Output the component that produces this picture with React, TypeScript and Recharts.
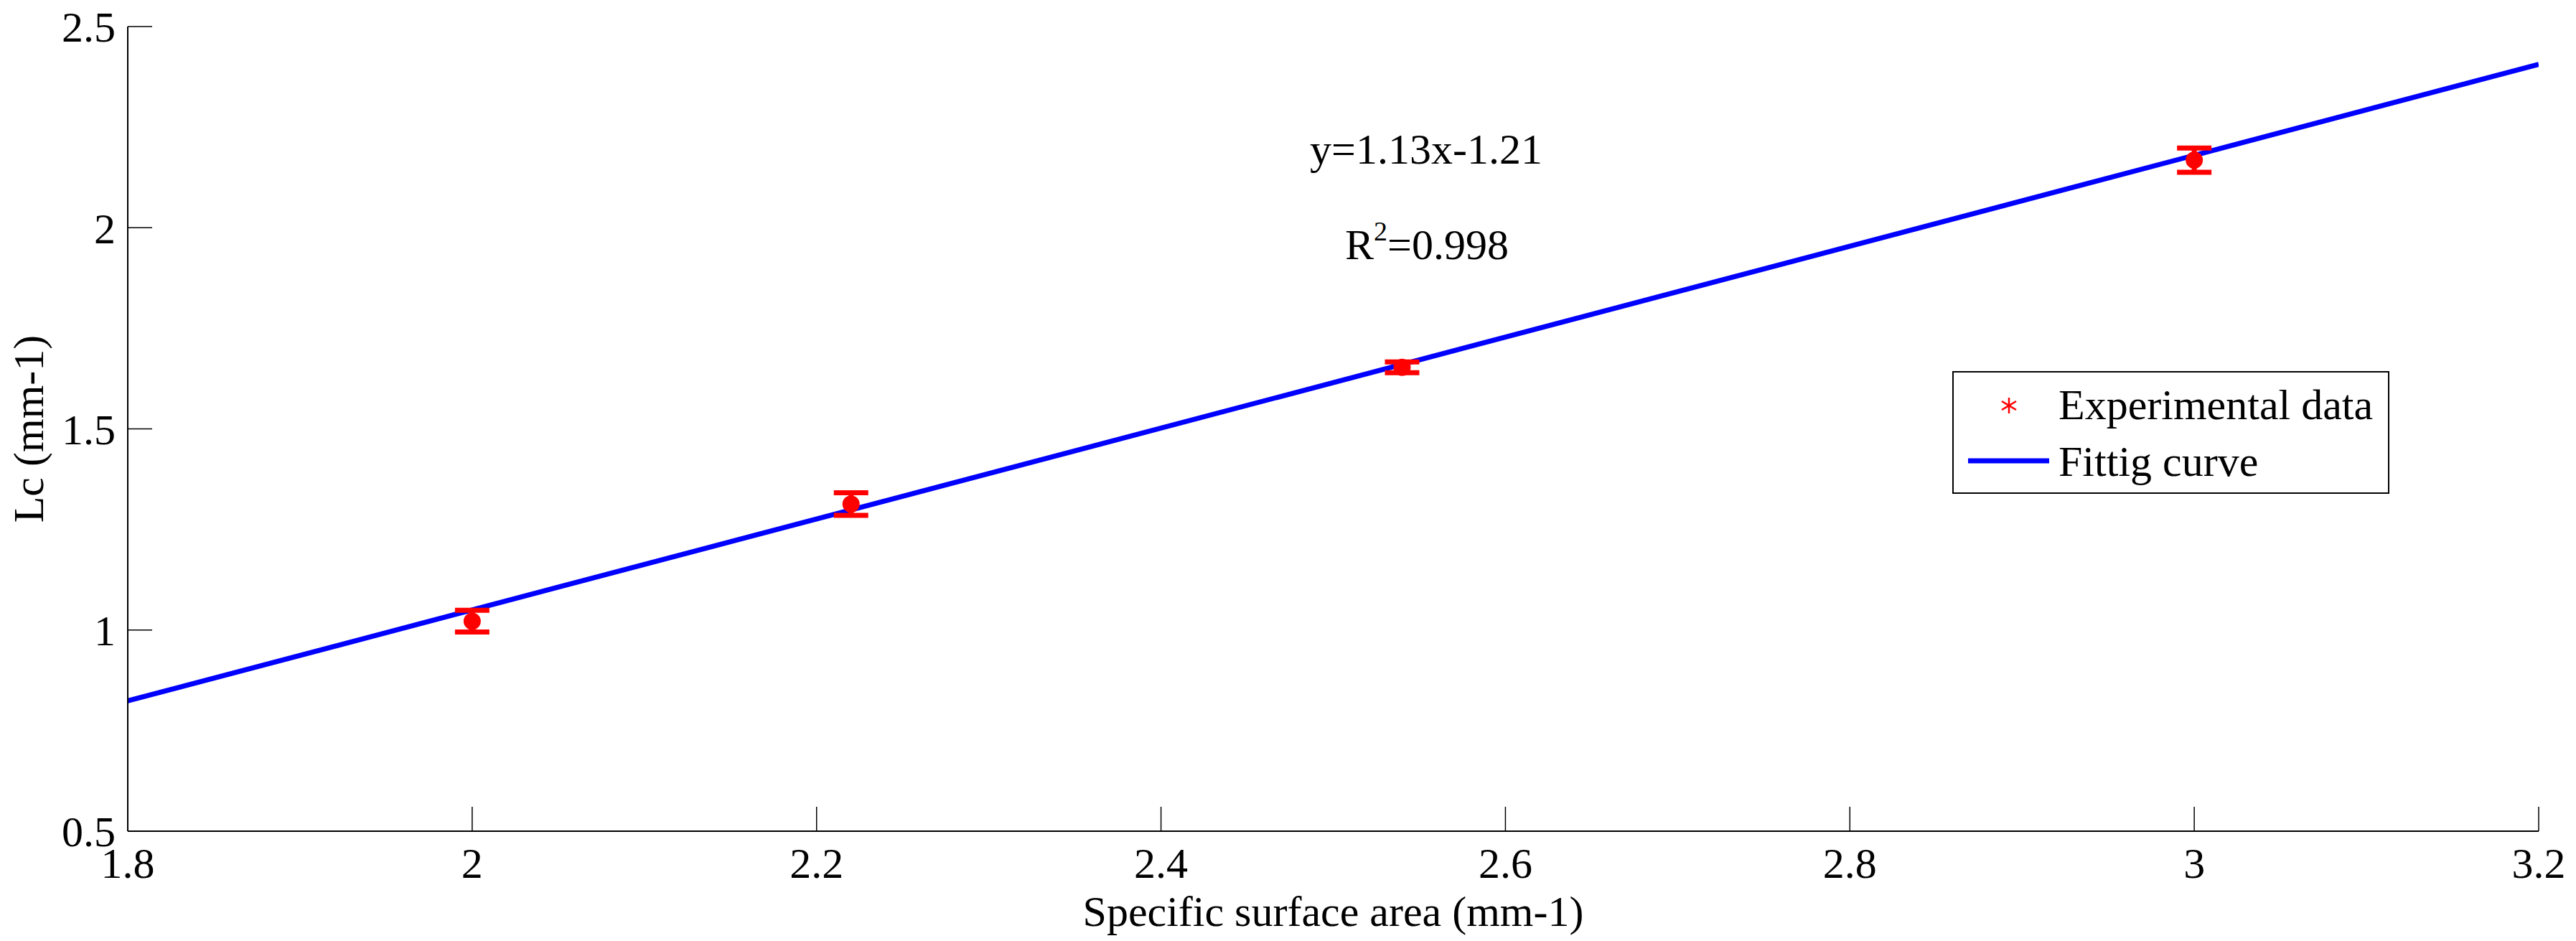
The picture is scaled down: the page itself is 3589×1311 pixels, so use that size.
import React from "react";
import {
  ComposedChart,
  Scatter,
  Line,
  XAxis,
  YAxis,
  ErrorBar,
  Legend,
  Customized,
} from "recharts";

// measured points (specific surface area vs Lc)
const surfaceArea = [2.0, 2.22, 2.54, 3.0];
const lcValues = [1.022, 1.313, 1.653, 2.168];
const lcError = [0.027, 0.028, 0.0135, 0.03];

// fitted line end points, y = 1.13x - 1.21
const fitX = [1.8, 3.2];
const fitY = [0.824, 2.406];

const xTicks = [1.8, 2, 2.2, 2.4, 2.6, 2.8, 3, 3.2];
const yTicks = [0.5, 1, 1.5, 2, 2.5];

const FONT = "'Liberation Serif', 'Times New Roman', serif";

const points = surfaceArea.map((x, i) => ({ x, y: lcValues[i], err: lcError[i] }));
const fitLine = fitX.map((x, i) => ({ x, fit: fitY[i] }));

const tickStyle = { fontSize: 60, fill: "#000", fontFamily: FONT };

const RedDot = (props: any) => {
  const { cx, cy } = props;
  if (cx == null || cy == null) return null;
  return <circle cx={cx} cy={cy} r={12} fill="#ff0000" />;
};

const LegendBox = () => (
  <svg width={609} height={171} style={{ display: "block" }}>
    <rect x={1} y={1} width={607} height={169} fill="#fff" stroke="#000" strokeWidth={2} />
    {/* asterisk marker */}
    <g stroke="#ff0000" strokeWidth={2.5}>
      <line x1={79} y1={37} x2={79} y2={59} />
      <line x1={69} y1={42} x2={89} y2={54} />
      <line x1={69} y1={54} x2={89} y2={42} />
    </g>
    <text x={148} y={67} fontSize={60} fontFamily={FONT} fill="#000">
      Experimental data
    </text>
    <line x1={22} y1={125} x2={135} y2={125} stroke="#0000ff" strokeWidth={7} />
    <text x={148} y={146} fontSize={60} fontFamily={FONT} fill="#000">
      Fittig curve
    </text>
  </svg>
);

const Annotations = () => (
  <g fontFamily={FONT} fontSize={60} fill="#000" textAnchor="middle">
    <text x={1987} y={228}>y=1.13x-1.21</text>
    <text x={1988} y={361}>
      R<tspan fontSize={38} dy={-26}>2</tspan>
      <tspan dy={26}>=0.998</tspan>
    </text>
  </g>
);

export default function App() {
  return (
    <div style={{ position: "absolute", left: 0, top: 0, background: "#fff" }}>
      <ComposedChart
        width={3589}
        height={1311}
        margin={{ top: 37, right: 52, left: 0, bottom: 0 }}
      >
        <XAxis
          dataKey="x"
          type="number"
          domain={[1.8, 3.2]}
          ticks={xTicks}
          allowDataOverflow
          height={153}
          tickSize={-34}
          tickMargin={56}
          tick={tickStyle}
          axisLine={{ stroke: "#000", strokeWidth: 2 }}
          tickLine={{ stroke: "#000", strokeWidth: 1.5 }}
          label={{
            value: "Specific surface area (mm-1)",
            position: "insideBottom",
            offset: 21,
            style: { fontSize: 60, fill: "#000", fontFamily: FONT },
          }}
        />
        <XAxis
          xAxisId="top"
          orientation="top"
          dataKey="x"
          type="number"
          domain={[1.8, 3.2]}
          ticks={xTicks}
          allowDataOverflow
          height={0}
          tickSize={-34}
          tick={false}
          axisLine={{ stroke: "#000", strokeWidth: 2 }}
          tickLine={{ stroke: "#000", strokeWidth: 1.5 }}
        />
        <YAxis
          type="number"
          domain={[0.5, 2.5]}
          ticks={yTicks}
          allowDataOverflow
          width={178}
          tickSize={-34}
          tickMargin={51}
          tick={tickStyle}
          axisLine={{ stroke: "#000", strokeWidth: 2 }}
          tickLine={{ stroke: "#000", strokeWidth: 1.5 }}
          label={{
            value: "Lc (mm-1)",
            angle: -90,
            position: "insideLeft",
            offset: 39,
            style: { fontSize: 60, fill: "#000", fontFamily: FONT, textAnchor: "middle" },
          }}
        />
        <YAxis
          yAxisId="right"
          orientation="right"
          type="number"
          domain={[0.5, 2.5]}
          ticks={yTicks}
          allowDataOverflow
          width={0}
          tickSize={-34}
          tick={false}
          axisLine={{ stroke: "#000", strokeWidth: 2 }}
          tickLine={{ stroke: "#000", strokeWidth: 1.5 }}
        />
        <Line
          data={fitLine}
          dataKey="fit"
          type="linear"
          stroke="#0000ff"
          strokeWidth={7}
          dot={false}
          activeDot={false}
          isAnimationActive={false}
        />
        <Scatter
          data={points}
          dataKey="y"
          fill="#ff0000"
          shape={RedDot}
          isAnimationActive={false}
        >
          <ErrorBar
            dataKey="err"
            direction="y"
            width={24}
            strokeWidth={7}
            stroke="#ff0000"
            isAnimationActive={false}
          />
        </Scatter>
        <Customized component={Annotations} />
        <Legend
          layout="vertical"
          align="center"
          verticalAlign="middle"
          content={() => <LegendBox />}
          wrapperStyle={{ left: 2720, top: 517, width: 609, height: 171 }}
        />
      </ComposedChart>
    </div>
  );
}
